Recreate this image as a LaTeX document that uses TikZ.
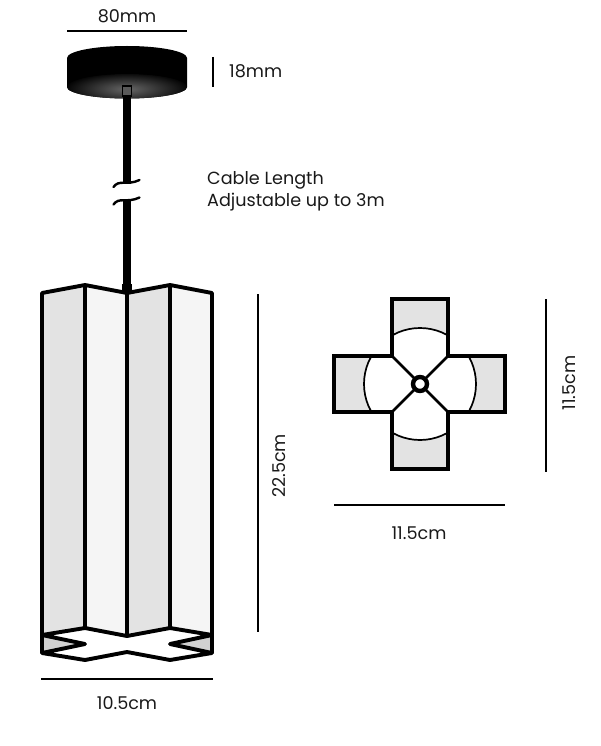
\documentclass[tikz,border=0pt]{standalone}
\usepackage{fontspec}
\setmainfont{Poppins}
\usetikzlibrary{positioning}
\definecolor{panelgray}{gray}{0.89}
\definecolor{panelwhite}{gray}{0.96}
\definecolor{endgray}{gray}{0.82}
\tikzset{
plan/.style={x=1pt,y=-1pt},
outline/.style={draw=black,line width=3.9pt,line join=round},
thinarc/.style={draw=black,line width=1.7pt},
dimline/.style={draw=black,line width=1.4pt},
dimtext/.style={font=\fontsize{17.6}{22}\selectfont,text=black!90,inner sep=0pt},
}

\begin{document}
\begin{tikzpicture}[plan]
                \useasboundingbox (0,0) rectangle (600,746);
                % ceiling rose
                \fill[black] (67,58) arc[x radius=60,y radius=12,start angle=-180,end angle=0]
                    -- (187,87) arc[x radius=60,y radius=11.5,start angle=0,end angle=180] -- cycle;
                \begin{scope}
                    \clip (67,87) arc[x radius=60,y radius=11.5,start angle=180,end angle=0]
                        -- (187,87) arc[x radius=60,y radius=13,start angle=0,end angle=-180] -- cycle;
                    \shade[inner color=black!60,outer color=black] (127,89) ellipse[x radius=64,y radius=17];
                \end{scope}
                \fill[black!65,draw=black,line width=1.6pt] (122.5,86) rectangle (131.5,96);
                % cable
                \draw[black,line width=7.6pt] (127,96) -- (127,184);
                \draw[black,line width=7.6pt] (127,201) -- (127,288);
                \fill[black] (122,284) rectangle (132,293);
                \foreach \sy in {0,17.5} {
                    \draw[black,line width=2.4pt,line cap=round] (113.5,187+\sy)
                        .. controls (119,179+\sy) and (127,186+\sy) .. (139.5,180+\sy);
                }
                % shade panels
                \foreach \xa/\xb/\col in {42/85/panelgray,85/127/panelwhite,127/170/panelgray,170/212/panelwhite} {
                    \pgfmathsetmacro{\ya}{\xa==42||\xa==127 ? 293:285}
                    \pgfmathsetmacro{\yb}{\xa==42||\xa==127 ? 285:293}
                    \pgfmathsetmacro{\yc}{\xa==42||\xa==127 ? 628:635.5}
                    \pgfmathsetmacro{\yd}{\xa==42||\xa==127 ? 635.5:628}
                    \fill[\col] (\xa,\ya) -- (\xb,\yb) -- (\xb,\yc) -- (\xa,\yd) -- cycle;
                }
                \fill[endgray] (42,635) -- (85,644) -- (42,653) -- cycle;
                \fill[endgray] (212,635) -- (170,644) -- (212,653) -- cycle;
                \draw[outline] (42,653) -- (42,293) -- (85,285) -- (127,293) -- (170,285) -- (212,293) -- (212,653);
                \foreach \vx/\vy in {85/628,127/636,170/628} {
                    \draw[outline] (\vx,285) -- (\vx,\vy);
                }
                \draw[outline] (42,635) -- (85,628) -- (127,636) -- (170,628) -- (212,635)
                    -- (170,644) -- (212,653) -- (170,660) -- (127,652) -- (85,660) -- (42,653) -- (85,644) -- cycle;
                % plan view
                \def\crosspath{(392,299) -- (448,299) -- (448,356) -- (505,356) -- (505,412) -- (448,412)
                    -- (448,469) -- (392,469) -- (392,412) -- (334,412) -- (334,356) -- (392,356) -- cycle}
                \fill[panelgray] \crosspath;
                \begin{scope}
                    \clip \crosspath;
                    \fill[white,thinarc] (420,384) circle[radius=56];
                \end{scope}
                \draw[outline,line join=miter] \crosspath;
                \coordinate (hub) at (420,384);
                \foreach \cx/\cy in {392/356,448/356,392/412,448/412} {
                    \draw[black,line width=2.8pt] (hub) -- (\cx,\cy);
                }
                \fill[white,draw=black,line width=4.4pt] (hub) circle[radius=7];
                % dimensions
                \draw[dimline] (67,31) -- (187,31);
                \draw[dimline] (213,57) -- (213,87);
                \draw[dimline] (258,294) -- (258,632);
                \draw[dimline] (41,679) -- (213,679);
                \draw[dimline] (546,299) -- (546,472);
                \draw[dimline] (334,505) -- (505,505);
                \node[dimtext] (widthrose) at (127,16) {80mm};
                \node[dimtext,anchor=west] (heightrose) at (229,71) {18mm};
                \node[dimtext,anchor=west,align=left] (cablelen) at (207,191.5) {Cable Length\\Adjustable up to 3m};
                \node[dimtext,rotate=90] (heightlamp) at (279,466) {22.5cm};
                \node[dimtext] (widthlamp) at (127,703) {10.5cm};
                \node[dimtext,rotate=90] (heightplan) at (569,383) {11.5cm};
                \node[dimtext] (widthplan) at (419,533) {11.5cm};
            \end{tikzpicture}
\end{document}
